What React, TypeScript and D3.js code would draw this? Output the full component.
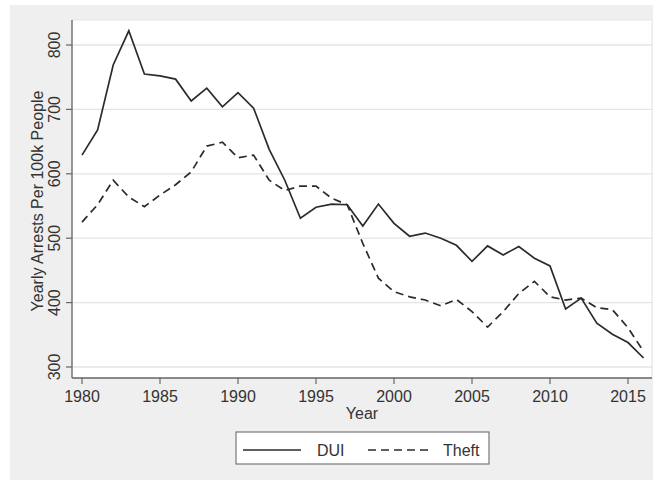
import React from 'react'
import * as d3 from 'd3'

const years = d3.range(1980, 2017)
const dui = [629, 668, 769, 822, 755, 752, 747, 713, 733, 704, 726, 702, 638, 590, 531, 548, 553, 552, 519, 553, 523, 503, 508, 500, 489, 464, 488, 474, 487, 469, 457, 390, 407, 368, 351, 338, 314]
const theft = [525, 552, 590, 564, 549, 567, 583, 603, 643, 649, 625, 629, 590, 574, 581, 581, 562, 552, 492, 438, 417, 409, 404, 395, 405, 386, 362, 386, 414, 433, 409, 404, 407, 392, 389, 361, 324]
const yTicks = [300, 400, 500, 600, 700, 800]
const xTicks = [1980, 1985, 1990, 1995, 2000, 2005, 2010, 2015]
const seriesNames = ['DUI', 'Theft']

const W = 656
const H = 481
const plot = { left: 72, right: 652, top: 20, bottom: 378 }
const font = '"Liberation Sans", Arial, Helvetica, sans-serif'
const ink = '#2b2b2b'
const textCol = '#333'
const dash = '8,5'

const App = () => {
    const x = d3.scaleLinear().domain([1980, 2015]).range([82, 628])
    const y = d3.scaleLinear().domain([300, 800]).range([367, 45])

    const line = d3.line<number>()
        .x((_, i) => x(years[i]))
        .y(d => y(d))

    return (
        <div style={{ position: 'fixed', left: 0, top: 0 }}>
            <svg width={W} height={H} style={{ display: 'block', fontFamily: font }}>
                <rect x={0} y={0} width={W} height={H} fill="#fff" />
                {/* graph region */}
                <rect x={10} y={5} width={643} height={475} fill="#efefef" />
                {/* plot region */}
                <rect x={plot.left} y={plot.top} width={plot.right - plot.left} height={plot.bottom - plot.top}
                    fill="#fff" stroke="#e6e6e6" strokeWidth={1} />

                {yTicks.map(t => (
                    <line key={'g' + t} x1={plot.left} x2={plot.right} y1={y(t)} y2={y(t)}
                        stroke="#e4e4e4" strokeWidth={1.3} />
                ))}

                <path d={line(theft) || ''} fill="none" stroke={ink} strokeWidth={1.7} strokeDasharray={dash} />
                <path d={line(dui) || ''} fill="none" stroke={ink} strokeWidth={1.7} />

                {/* axes */}
                <line x1={plot.left} x2={plot.left} y1={plot.top} y2={plot.bottom} stroke="#666" strokeWidth={1.3} />
                <line x1={plot.left} x2={plot.right} y1={plot.bottom} y2={plot.bottom} stroke="#666" strokeWidth={1.3} />

                {yTicks.map(t => (
                    <g key={'y' + t}>
                        <line x1={plot.left - 6} x2={plot.left} y1={y(t)} y2={y(t)} stroke="#666" strokeWidth={1.2} />
                        <text transform={`translate(${60},${y(t)}) rotate(-90)`} textAnchor="middle"
                            fontSize={16} fill={textCol}>{t}</text>
                    </g>
                ))}
                {xTicks.map(t => (
                    <g key={'x' + t}>
                        <line x1={x(t)} x2={x(t)} y1={plot.bottom} y2={plot.bottom + 6} stroke="#666" strokeWidth={1.2} />
                        <text x={x(t)} y={402} textAnchor="middle" fontSize={16} fill={textCol}>{t}</text>
                    </g>
                ))}

                <text x={(plot.left + plot.right) / 2} y={419} textAnchor="middle" fontSize={16} fill={textCol}>Year</text>
                <text transform={`translate(${43},${201}) rotate(-90)`} textAnchor="middle" fontSize={16} fill={textCol}>
                    Yearly Arrests Per 100k People
                </text>

                {/* legend */}
                <rect x={236} y={432} width={253} height={32} fill="#fff" stroke="#777" strokeWidth={1.2} />
                <line x1={243} x2={301} y1={450} y2={450} stroke={ink} strokeWidth={1.7} />
                <text x={317} y={456} fontSize={16} fill={textCol}>{seriesNames[0]}</text>
                <line x1={368} x2={433} y1={450} y2={450} stroke={ink} strokeWidth={1.7} strokeDasharray={dash} />
                <text x={443} y={456} fontSize={16} fill={textCol}>{seriesNames[1]}</text>
            </svg>
        </div>
    )
}

export default App
